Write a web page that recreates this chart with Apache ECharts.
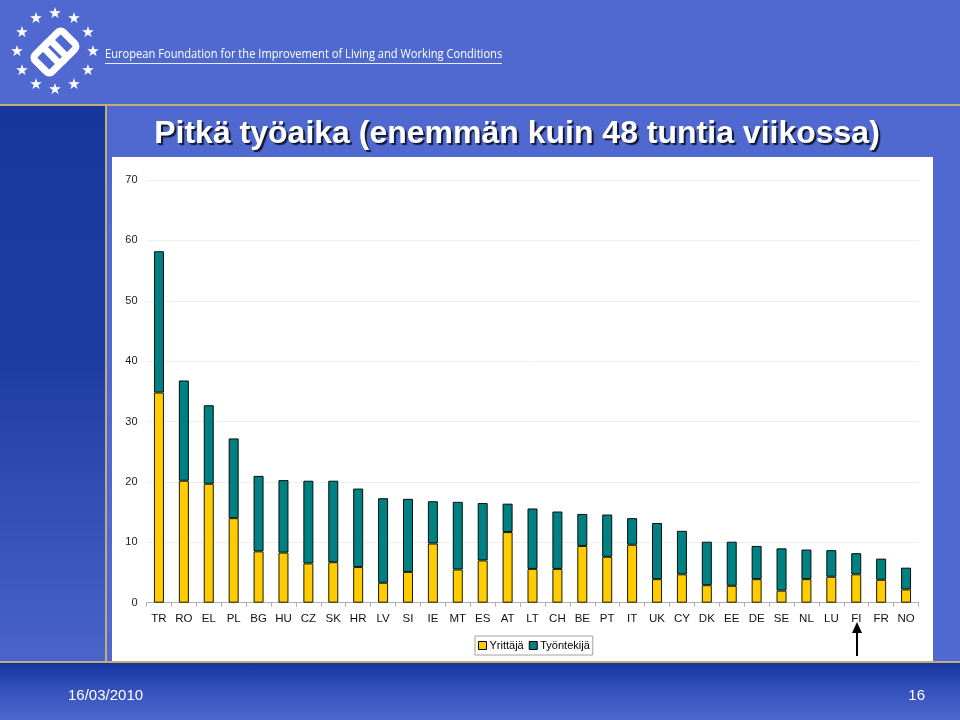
<!DOCTYPE html>
<html>
<head>
<meta charset="utf-8">
<script src="https://cdn.jsdelivr.net/npm/echarts@6/dist/echarts.min.js"></script>
<style>
  html, body { margin: 0; padding: 0; width: 960px; height: 720px; overflow: hidden; font-family: "Liberation Sans", Arial, sans-serif; }
  #bg { position: absolute; left: 0; top: 0; width: 960px; height: 720px; background: #5069d1; }
  #strip { position: absolute; left: 0; top: 106px; width: 105px; height: 556px; background: linear-gradient(#17379f, #1d3ca3 45%, #4a64cc); }
  #vline { position: absolute; left: 105px; top: 105px; width: 2px; height: 557px; background: #c3ad72; }
  #hline1 { position: absolute; left: 0; top: 104px; width: 960px; height: 2px; background: #c3ad72; }
  #hline2 { position: absolute; left: 0; top: 661px; width: 960px; height: 2px; background: #c3ad72; }
  #footer { position: absolute; left: 0; top: 663px; width: 960px; height: 57px; background: linear-gradient(#14359e, #3550bb 45%, #4d67d0); }
  #panel { position: absolute; left: 112px; top: 157px; width: 821px; height: 504px; background: #ffffff; }
  #chart { position: absolute; left: 0; top: 0; width: 960px; height: 720px; }
</style>
</head>
<body>
<div id="bg"></div>
<div id="strip"></div>
<div id="footer"></div>
<div id="hline1"></div>
<div id="hline2"></div>
<div id="vline"></div>
<div id="panel"></div>
<div id="chart"></div>
<script>
const categories = ['TR','RO','EL','PL','BG','HU','CZ','SK','HR','LV','SI','IE','MT','ES','AT','LT','CH','BE','PT','IT','UK','CY','DK','EE','DE','SE','NL','LU','FI','FR','NO'];
const yrittaja = [34.8, 20.2, 19.7, 14.0, 8.5, 8.3, 6.5, 6.7, 5.9, 3.3, 5.1, 9.8, 5.5, 7.0, 11.7, 5.6, 5.6, 9.4, 7.6, 9.6, 3.9, 4.7, 2.9, 2.8, 3.9, 2.0, 3.9, 4.3, 4.7, 3.8, 2.2];
const tyontekija = [23.4, 16.6, 13.0, 13.2, 12.5, 12.0, 13.7, 13.5, 13.0, 14.0, 12.1, 7.0, 11.2, 9.5, 4.7, 10.0, 9.5, 5.3, 7.0, 4.4, 9.3, 7.2, 7.2, 7.3, 5.5, 7.0, 4.9, 4.4, 3.5, 3.5, 3.6];
const yTicks = [0, 10, 20, 30, 40, 50, 60, 70];

const chart = echarts.init(document.getElementById('chart'), null, { renderer: 'canvas' });

// logo stars
const stars = [];
for (let i = 0; i < 12; i++) {
  const a = i * Math.PI / 6;
  stars.push({
    type: 'text',
    x: 55 + 38 * Math.sin(a),
    y: 52 - 38 * Math.cos(a),
    style: { text: '★', fill: '#ffffff', font: '15px "DejaVu Sans"', align: 'center', verticalAlign: 'middle' }
  });
}

chart.setOption({
  backgroundColor: 'transparent',
  animation: false,
  title: {
    text: 'Pitkä työaika (enemmän kuin 48 tuntia viikossa)',
    left: 512, top: 113, textAlign: 'center',
    textStyle: {
      color: '#ffffff', fontSize: 32, fontWeight: 'bold', fontFamily: '"Liberation Sans", Arial',
      textShadowColor: '#101830', textShadowOffsetX: 2, textShadowOffsetY: 2, textShadowBlur: 1
    }
  },
  legend: {
    data: [
      { name: 'Yrittäjä', itemStyle: { color: '#FFCC00', borderColor: '#000', borderWidth: 1 } },
      { name: 'Työntekijä', itemStyle: { color: '#008080', borderColor: '#000', borderWidth: 1 } }
    ],
    left: 475, top: 636,
    itemWidth: 8, itemHeight: 8, itemGap: 5,
    padding: [4, 3, 4, 3],
    borderColor: '#a0a0a0', borderWidth: 1,
    icon: 'rect',
    textStyle: { fontSize: 11, color: '#000', fontFamily: '"Liberation Sans", Arial', padding: [0, 0, 0, -2] },
    selectedMode: false
  },
  grid: { left: 146.5, right: 41.5, top: 180, bottom: 117.3, containLabel: false },
  xAxis: {
    type: 'category',
    data: categories,
    axisLine: { lineStyle: { color: '#b0b0b0' } },
    axisTick: { show: true, alignWithLabel: false, length: 4, lineStyle: { color: '#b0b0b0' } },
    axisLabel: { color: '#111', fontSize: 11.5, margin: 10, interval: 0, fontFamily: '"Liberation Sans", Arial' }
  },
  yAxis: {
    type: 'value', min: 0, max: 70, interval: 10,
    axisLine: { show: false }, axisTick: { show: false },
    splitLine: { lineStyle: { color: '#eeeeee' } },
    axisLabel: { color: '#222', fontSize: 11, margin: 9, fontFamily: '"Liberation Sans", Arial',
      formatter: v => yTicks.includes(v) ? String(v) : '' }
  },
  series: [
    { name: 'Yrittäjä', type: 'bar', stack: 'a', data: yrittaja, barWidth: 10,
      itemStyle: { color: '#FFCC00', borderColor: '#1a1a00', borderWidth: 1 } },
    { name: 'Työntekijä', type: 'bar', stack: 'a', data: tyontekija, barWidth: 10,
      itemStyle: { color: '#008080', borderColor: '#001010', borderWidth: 1 } }
  ],
  graphic: [
    ...stars,
    // chain-link logo center
    { type: 'rect', x: 55, y: 52, originX: 0, originY: 0, rotation: Math.PI / 4,
      shape: { x: -20, y: -12, width: 25, height: 24, r: 4 },
      style: { fill: 'none', stroke: '#ffffff', lineWidth: 7 } },
    { type: 'rect', x: 55, y: 52, originX: 0, originY: 0, rotation: Math.PI / 4,
      shape: { x: -5, y: -12, width: 25, height: 24, r: 4 },
      style: { fill: 'none', stroke: '#ffffff', lineWidth: 7 } },
    { type: 'text', x: 105, y: 54, scaleX: 0.856,
      style: { text: 'European Foundation for the Improvement of Living and Working Conditions',
        fill: '#ffffff', font: '13px "Open Sans"', verticalAlign: 'middle' } },
    { type: 'line', shape: { x1: 105, y1: 63.5, x2: 502, y2: 63.5 }, style: { stroke: '#e8ecff', lineWidth: 1 } },
    // arrow under FI
    { type: 'line', shape: { x1: 857, y1: 656, x2: 857, y2: 631 }, style: { stroke: '#000', lineWidth: 2 } },
    { type: 'polygon', shape: { points: [[852, 633], [857, 622], [862, 633]] }, style: { fill: '#000' } },
    // footer
    { type: 'text', x: 68, y: 696,
      style: { text: '16/03/2010', fill: '#ffffff', font: '15px "Liberation Sans"', verticalAlign: 'middle' } },
    { type: 'text', x: 925, y: 696,
      style: { text: '16', fill: '#ffffff', font: '15px "Liberation Sans"', align: 'right', verticalAlign: 'middle' } }
  ]
});
</script>
</body>
</html>
